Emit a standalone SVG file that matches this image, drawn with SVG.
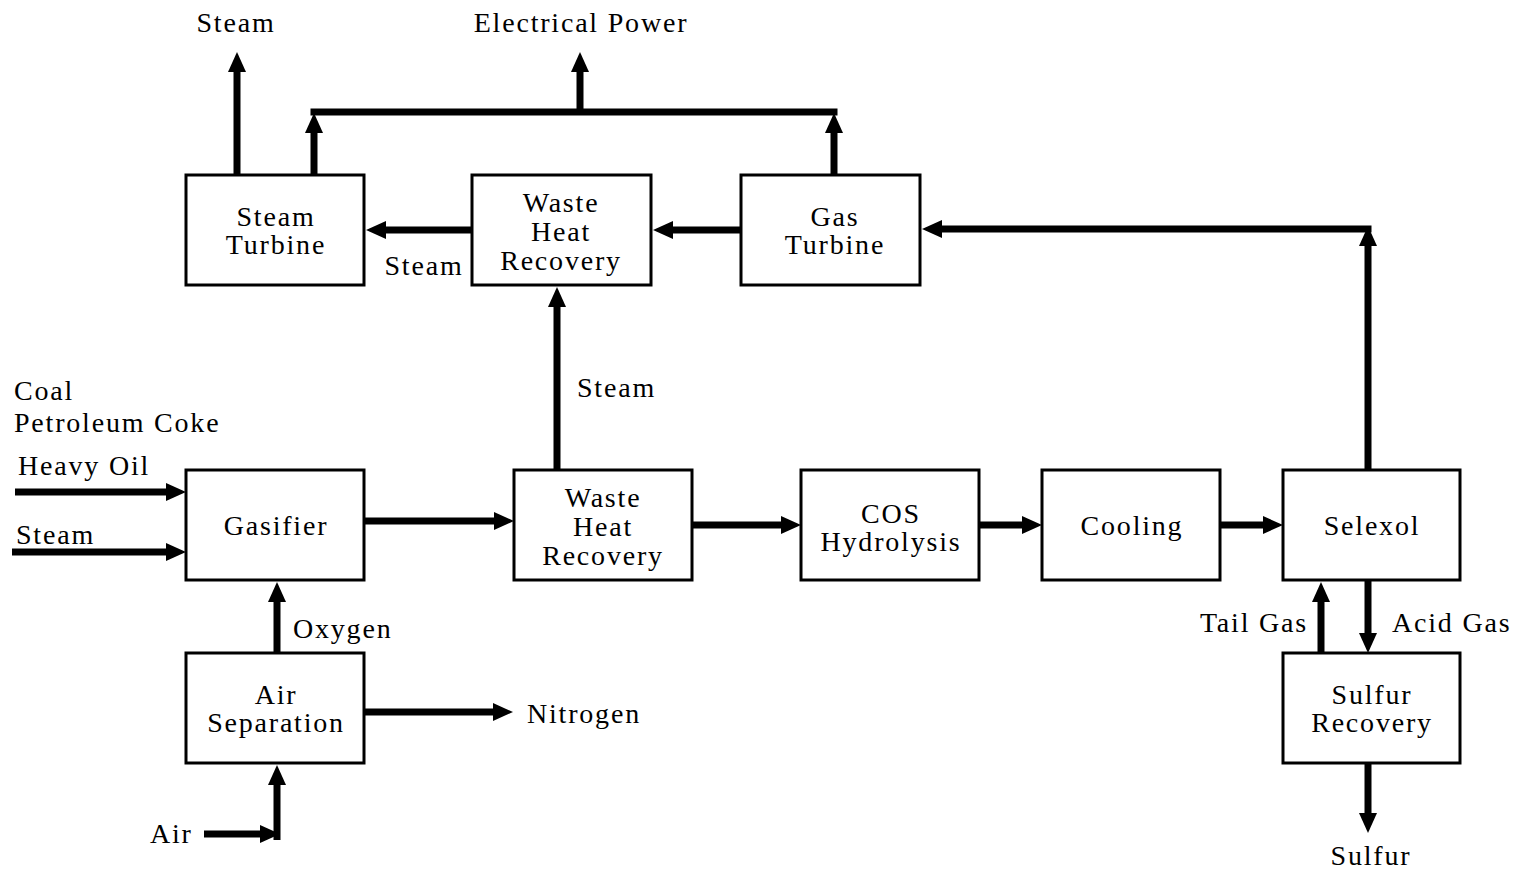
<svg xmlns="http://www.w3.org/2000/svg" width="1520" height="869" viewBox="0 0 1520 869">
<style>
.box{fill:#fff;stroke:#000;stroke-width:3}
.t{font-family:"Liberation Serif","Times New Roman",serif;font-size:28px;letter-spacing:1.8px;fill:#000}
.c{text-anchor:middle}
.ln{fill:none;stroke:#000;stroke-width:7}
</style>
<defs>
<marker id="ah" markerUnits="userSpaceOnUse" markerWidth="20" markerHeight="18" refX="2" refY="9" orient="auto">
<path d="M0,0 L20,9 L0,18 z" fill="#000"/>
</marker>
</defs>
<rect width="1520" height="869" fill="#fff"/>
<g id="connectors">
<line class="ln" x1="237" y1="175" x2="237" y2="70" marker-end="url(#ah)"/>
<line class="ln" x1="314" y1="175" x2="314" y2="131" marker-end="url(#ah)"/>
<line class="ln" x1="834" y1="175" x2="834" y2="131" marker-end="url(#ah)"/>
<line class="ln" x1="310.5" y1="112" x2="837.5" y2="112"/>
<line class="ln" x1="580" y1="112" x2="580" y2="70" marker-end="url(#ah)"/>
<line class="ln" x1="472" y1="230" x2="384" y2="230" marker-end="url(#ah)"/>
<line class="ln" x1="741" y1="230" x2="671" y2="230" marker-end="url(#ah)"/>
<line class="ln" x1="1368" y1="470" x2="1368" y2="244" marker-end="url(#ah)"/>
<line class="ln" x1="1371.5" y1="229" x2="940" y2="229" marker-end="url(#ah)"/>
<line class="ln" x1="557" y1="470" x2="557" y2="305" marker-end="url(#ah)"/>
<line class="ln" x1="15" y1="492" x2="168" y2="492" marker-end="url(#ah)"/>
<line class="ln" x1="12" y1="552" x2="168" y2="552" marker-end="url(#ah)"/>
<line class="ln" x1="364" y1="521" x2="496" y2="521" marker-end="url(#ah)"/>
<line class="ln" x1="692" y1="525" x2="783" y2="525" marker-end="url(#ah)"/>
<line class="ln" x1="979" y1="525" x2="1024" y2="525" marker-end="url(#ah)"/>
<line class="ln" x1="1220" y1="525" x2="1265" y2="525" marker-end="url(#ah)"/>
<line class="ln" x1="277" y1="653" x2="277" y2="600" marker-end="url(#ah)"/>
<line class="ln" x1="364" y1="712" x2="495" y2="712" marker-end="url(#ah)"/>
<line class="ln" x1="204" y1="834" x2="262" y2="834" marker-end="url(#ah)"/>
<line class="ln" x1="277" y1="840" x2="277" y2="783" marker-end="url(#ah)"/>
<line class="ln" x1="1321" y1="653" x2="1321" y2="600" marker-end="url(#ah)"/>
<line class="ln" x1="1368" y1="580" x2="1368" y2="635" marker-end="url(#ah)"/>
<line class="ln" x1="1368" y1="763" x2="1368" y2="815" marker-end="url(#ah)"/>
</g>
<g id="labels">
<text class="t c" x="236" y="32">Steam</text>
<text class="t c" x="581" y="32">Electrical Power</text>
<text class="t c" x="424" y="275">Steam</text>
<text class="t" x="577" y="397">Steam</text>
<text class="t" x="14" y="400">Coal</text>
<text class="t" x="14" y="432">Petroleum Coke</text>
<text class="t" x="18" y="475">Heavy Oil</text>
<text class="t" x="16" y="544">Steam</text>
<text class="t" x="293" y="638">Oxygen</text>
<text class="t" x="527" y="723">Nitrogen</text>
<text class="t" x="150" y="843">Air</text>
<text class="t" x="1308" y="632" text-anchor="end">Tail Gas</text>
<text class="t" x="1392" y="632">Acid Gas</text>
<text class="t c" x="1371" y="865">Sulfur</text>
</g>
<g id="steam-turbine"><rect class="box" x="186" y="175" width="178" height="110"/><text class="t c" x="276" y="226">Steam</text><text class="t c" x="276" y="254">Turbine</text></g>
<g id="whr-top"><rect class="box" x="472" y="175" width="179" height="110"/><text class="t c" x="561" y="212">Waste</text><text class="t c" x="561" y="241">Heat</text><text class="t c" x="561" y="270">Recovery</text></g>
<g id="gas-turbine"><rect class="box" x="741" y="175" width="179" height="110"/><text class="t c" x="835" y="226">Gas</text><text class="t c" x="835" y="254">Turbine</text></g>
<g id="gasifier"><rect class="box" x="186" y="470" width="178" height="110"/><text class="t c" x="276" y="535">Gasifier</text></g>
<g id="whr-bottom"><rect class="box" x="514" y="470" width="178" height="110"/><text class="t c" x="603" y="507">Waste</text><text class="t c" x="603" y="536">Heat</text><text class="t c" x="603" y="565">Recovery</text></g>
<g id="cos"><rect class="box" x="801" y="470" width="178" height="110"/><text class="t c" x="891" y="523">COS</text><text class="t c" x="891" y="551">Hydrolysis</text></g>
<g id="cooling"><rect class="box" x="1042" y="470" width="178" height="110"/><text class="t c" x="1132" y="535">Cooling</text></g>
<g id="selexol"><rect class="box" x="1283" y="470" width="177" height="110"/><text class="t c" x="1372" y="535">Selexol</text></g>
<g id="air-separation"><rect class="box" x="186" y="653" width="178" height="110"/><text class="t c" x="276" y="704">Air</text><text class="t c" x="276" y="732">Separation</text></g>
<g id="sulfur-recovery"><rect class="box" x="1283" y="653" width="177" height="110"/><text class="t c" x="1372" y="704">Sulfur</text><text class="t c" x="1372" y="732">Recovery</text></g>
</svg>
